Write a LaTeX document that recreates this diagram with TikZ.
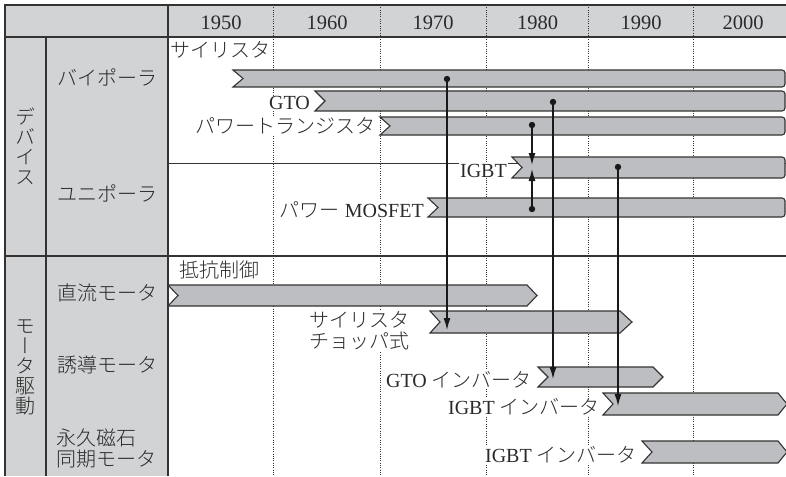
\documentclass[tikz,border=0pt]{standalone}
\usepackage{fontspec}
\setmainfont{Liberation Serif}
\newfontfamily\jp{Noto Sans CJK JP}[UprightFont={* Light}]
\newfontfamily\jpv{Noto Sans CJK JP}[UprightFont={* Light},RawFeature=+vert]
\usetikzlibrary{arrows.meta}
\definecolor{hdr}{HTML}{D2D3D5}
\definecolor{barfill}{HTML}{BDBEC1}
\definecolor{ln}{HTML}{333333}
\definecolor{txt}{HTML}{2A2A2A}
% bar with notched left end and rounded right end (cut at the edge)
\newcommand\barRound[3]{%
  \draw[bar] (#1,#2) -- (782,#2) arc[start angle=-90,end angle=0,radius=3]
    -- (785,{#3-3}) arc[start angle=0,end angle=90,radius=3]
    -- (#1,#3) -- ({#1+10},{(#2+#3)/2}) -- cycle;}
% bar with notched left end and pointed right end
\newcommand\barPoint[5]{%
  \draw[bar] (#1,#2) -- (#4,#2) -- ({#4+#5},{(#2+#3)/2}) -- (#4,#3)
    -- (#1,#3) -- ({#1+10},{(#2+#3)/2}) -- cycle;}
\begin{document}
\begin{tikzpicture}[x=1pt,y=-1pt,
  bar/.style={draw=ln, line width=1.1pt, fill=barfill, line join=miter},
  gridline/.style={draw=ln, line width=0.6pt, dash pattern=on 1pt off 1.3pt},
  frameline/.style={draw=ln, line width=1.4pt},
  thinline/.style={draw=ln, line width=0.9pt},
  lbl/.style={font=\fontsize{20}{21}\selectfont, inner sep=1pt, fill=white, text=txt},
  cat/.style={font=\jp\fontsize{20}{21}\selectfont, inner sep=0pt, text=txt},
  vcat/.style={font=\jpv\fontsize{20}{20}\selectfont, inner sep=0pt, text=txt, align=center},
  year/.style={font=\fontsize{20.5}{21}\selectfont, inner sep=0pt, text=txt, anchor=base},
  conn/.style={draw=black!90, line width=1.3pt},
  arr/.style={conn, -{Latex[length=12pt,width=7pt]}},
  dotmark/.style={fill=black!90}
]
\useasboundingbox (0,0) rectangle (786,476);
% fills
\fill[hdr] (5,5) rectangle (786,37);
\fill[hdr] (5,37) rectangle (168,476);
\fill[white] (168,37) rectangle (786,476);
% dotted decade lines
\foreach \gx in {273,380,486,588.5,693} {\draw[gridline] (\gx,5) -- (\gx,476);}
% sub-row line inside device section
\draw[thinline] (168,163) -- (786,163);
% frame
\draw[frameline] (786,5) -- (5,5) -- (5,476);
\draw[frameline] (5,37) -- (786,37);
\draw[frameline] (5,256) -- (786,256);
\draw[frameline] (46,37) -- (46,476);
\draw[frameline] (168,5) -- (168,476);
% header years
\node[year] (y1950) at (221,30) {1950};
\node[year] (y1960) at (327,30) {1960};
\node[year] (y1970) at (433,30) {1970};
\node[year] (y1980) at (537.5,30) {1980};
\node[year] (y1990) at (641,30) {1990};
\node[year] (y2000) at (743,30) {2000};
% category labels
\node[vcat] (cdev) at (25,146) {デ\\バ\\イ\\ス};
\node[vcat] (cmot) at (25,367) {モ\\ー\\タ\\駆\\動};
\node[cat] (cbip) at (107,77) {バイポーラ};
\node[cat] (cuni) at (107,193) {ユニポーラ};
\node[cat] (cdc) at (107,293) {直流モータ};
\node[cat] (cind) at (107,365) {誘導モータ};
\node[cat, align=left, anchor=west] (cpm) at (56,448) {永久磁石\\同期モータ};
% timeline labels
\node[lbl, anchor=west] (lthy) at (169,50) {\jp サイリスタ};
\node[lbl, anchor=base east] (lgto) at (311,110) {GTO};
\node[lbl, anchor=east] (lptr) at (377,126) {\jp パワートランジスタ};
\node[lbl, anchor=base east] (ligbt) at (508,177) {IGBT};
\node[lbl, anchor=base east] (lmos) at (425,217) {{\jp パワー} MOSFET};
\node[lbl, anchor=west] (lres) at (178,270) {\jp 抵抗制御};
\node[lbl, anchor=west, align=left] (lchop) at (308,330.5) {\jp サイリスタ\\\jp チョッパ式};
\node[lbl, anchor=base east] (lgtoinv) at (533,387) {GTO {\jp インバータ}};
\node[lbl, anchor=base east] (ligbtinv) at (601,414) {IGBT {\jp インバータ}};
\node[lbl, anchor=base east] (ligbtinvb) at (638,462) {IGBT {\jp インバータ}};
% device bars
\barRound{233}{70}{87}
\barRound{315}{91}{111}
\barRound{380}{117}{135}
\barRound{512}{157}{178}
\barRound{428}{198}{217}
% motor bars
\barPoint{168}{285}{306}{527}{10}
\barPoint{430}{311}{333}{620}{12}
\barPoint{538}{367}{387}{653}{10}
\barPoint{603}{393}{415}{778}{9}
\barPoint{642}{441}{463}{778}{9}
% connectors
\coordinate (dthy) at (447,79);
\coordinate (ethy) at (447,330);
\coordinate (dgto) at (553,102);
\coordinate (egto) at (553,379);
\coordinate (digbt) at (618,167);
\coordinate (eigbt) at (618,406);
\coordinate (dptr) at (532,125);
\coordinate (eptr) at (532,165);
\coordinate (dmos) at (532,209);
\coordinate (emos) at (532,169);
\draw[arr] (dthy) -- (ethy);
\draw[arr] (dgto) -- (egto);
\draw[arr] (digbt) -- (eigbt);
\draw[arr] (dptr) -- (eptr);
\draw[arr] (dmos) -- (emos);
\foreach \p in {dthy,dgto,digbt,dptr,dmos} {\fill[dotmark] (\p) circle[radius=3.2];}
\end{tikzpicture}
\end{document}
